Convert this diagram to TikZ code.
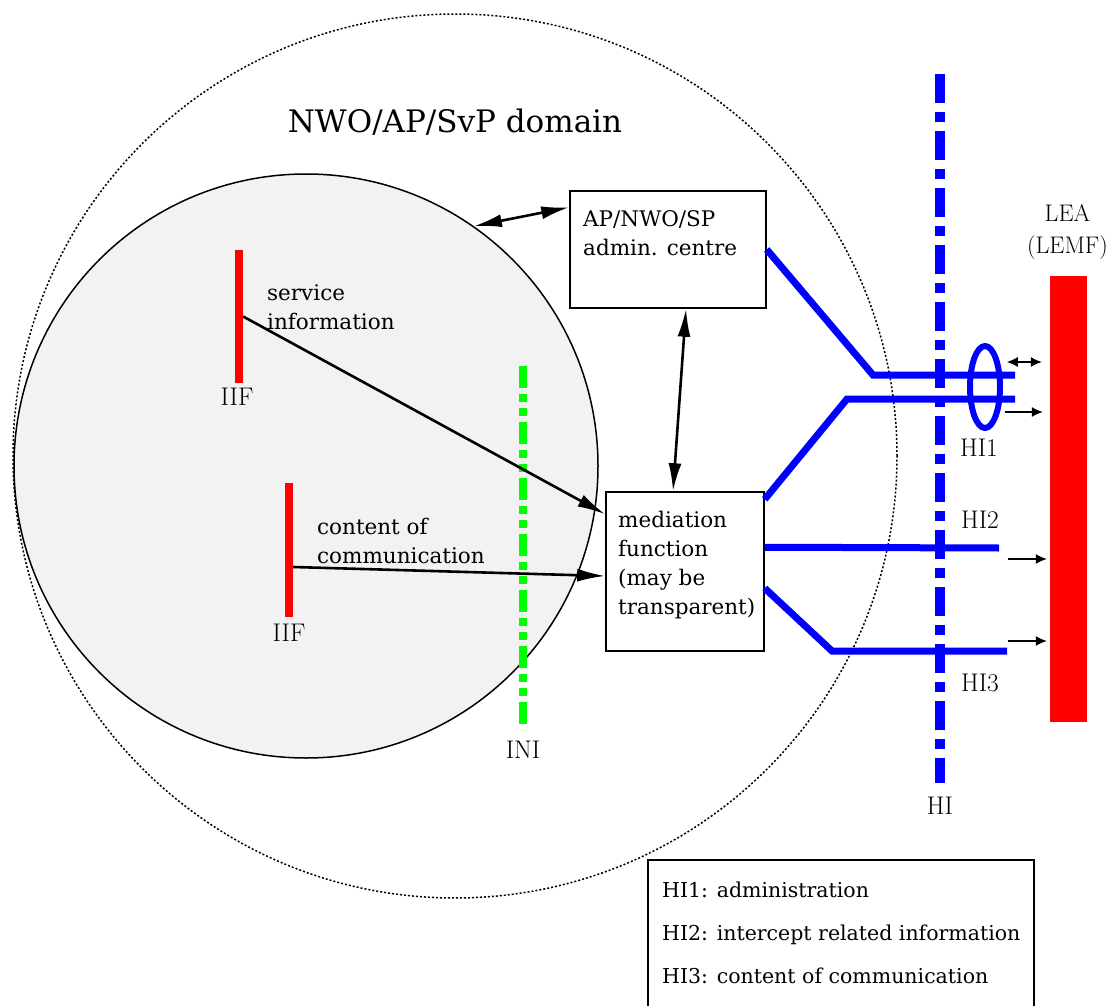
\documentclass[tikz,border=0pt]{standalone}
\usepackage{fontspec}
\newfontfamily\chr{DejaVu Serif}
\usetikzlibrary{arrows.meta,calc}
\definecolor{lightfill}{RGB}{242,242,242}
\definecolor{pureblue}{RGB}{0,0,255}
\definecolor{puregreen}{RGB}{0,255,0}
\definecolor{purered}{RGB}{255,0,0}
\begin{document}
\begin{tikzpicture}[x=1pt,y=-1pt,
  txt/.style={font=\chr\fontsize{21.5}{29}\selectfont, inner sep=0pt, align=left, anchor=west},
  lab/.style={font=\fontsize{25.5}{32}\selectfont, inner sep=0pt, align=center},
  box/.style={draw, line width=1.5pt, fill=white, inner sep=0pt},
  bigarrow/.style={line width=2.6pt, -{Latex[length=28pt,width=13pt]}},
  bigdarrow/.style={line width=2.6pt, {Latex[length=28pt,width=13pt]}-{Latex[length=28pt,width=13pt]}},
  smallarrow/.style={line width=1.3pt, -{Latex[length=11pt,width=10pt]}},
  smalldarrow/.style={line width=1.3pt, {Latex[length=11pt,width=10pt]}-{Latex[length=11pt,width=10pt]}},
  hiline/.style={pureblue, line width=7pt},
  bar/.style={fill=purered, draw=none, inner sep=0pt}
]
\useasboundingbox (0,0) rectangle (1109,1006);
\fill[white] (0,0) rectangle (1109,1006);

% domains
\node[circle, draw, line width=1.5pt, dash pattern=on 2pt off 2pt, minimum size=884pt, inner sep=0pt] (domain) at (455,456) {};
\node[circle, draw, line width=1.5pt, fill=lightfill, minimum size=584pt, inner sep=0pt] (nw) at (306,466) {};
\node[font=\chr\fontsize{31}{36}\selectfont, inner sep=0pt] (title) at (455,122) {NWO/AP/SvP domain};

% INI line
\draw[puregreen, line width=8pt, dash pattern=on 22pt off 6pt on 8pt off 6pt on 8pt off 6pt] (523,366) -- (523,730);
\node[lab] (ini) at (523,750) {INI};

% IIF bars
\node[bar, minimum width=8pt, minimum height=133pt] (iif1) at (239,316.5) {};
\node[bar, minimum width=8pt, minimum height=134pt] (iif2) at (289,550) {};
\node[lab] (iif1l) at (237,397) {IIF};
\node[lab] (iif2l) at (289,633) {IIF};
\node[txt] (si) at (267,307) {service\\information};
\node[txt] (cc) at (317,541) {content of\\communication};

% boxes
\node[box, minimum width=196pt, minimum height=117pt] (admin) at (668,249.5) {};
\node[txt] (admint) at (583,233) {AP/NWO/SP\\admin. centre};
\node[box, minimum width=158pt, minimum height=159pt] (med) at (685,571.5) {};
\node[txt] (medt) at (618,565) {mediation\\function\\(may be\\transparent)};

% HI lines
\draw[hiline] (admin.east) -- (873,375) -- (1015,375);
\draw[hiline] ($(med.north east)+(0,8)$) -- (847,399) -- (1015,399);
\draw[hiline] ($(med.north east)+(0,56)$) -- (999,548);
\draw[hiline] ($(med.north east)+(0,97)$) -- (832,651) -- (1007,651);
\draw[pureblue, line width=10pt, dash pattern=on 29pt off 9pt on 10pt off 9pt] (940,74) -- (940,783);
\draw[pureblue, line width=6pt] (985,387) ellipse [x radius=15pt, y radius=41pt];
\node[lab] (hi) at (940,806) {HI};
\node[lab] (hi1) at (979,448) {HI1};
\node[lab] (hi2) at (980,520) {HI2};
\node[lab] (hi3) at (980,683) {HI3};

% arrows
\draw[bigdarrow] (nw.55.6) -- ($(admin.north west)+(0,17)$);
\draw[bigdarrow] ($(admin.south)+(18,0)$) -- ($(med.north)+(-12,0)$);
\draw[bigarrow] (iif1.east) -- ($(med.north west)+(0,23)$);
\draw[bigarrow] ($(iif2.east)+(0,17)$) -- ($(med.west)+(0,4.5)$);

% LEA
\node[bar, minimum width=37pt, minimum height=446pt] (lea) at (1068.5,499) {};
\node[lab, font=\fontsize{24}{32}\selectfont] (leat) at (1067.5,232) {LEA\\(LEMF)};
\draw[smalldarrow] ($(lea.west)+(-43,-137)$) -- ($(lea.west)+(-8,-137)$);
\draw[smallarrow] ($(lea.west)+(-45,-87)$) -- ($(lea.west)+(-7,-87)$);
\draw[smallarrow] ($(lea.west)+(-42,60)$) -- ($(lea.west)+(-3,60)$);
\draw[smallarrow] ($(lea.west)+(-42,142)$) -- ($(lea.west)+(-3,142)$);

% legend
\node[box, minimum width=386pt, minimum height=161pt, anchor=north west] (legend) at (647,859) {};
\node[font=\chr\fontsize{20.5}{43}\selectfont, inner sep=0pt, align=left, anchor=west] (legendt) at (662,933) {HI1: administration\\HI2: intercept related information\\HI3: content of communication};
\end{tikzpicture}
\end{document}
